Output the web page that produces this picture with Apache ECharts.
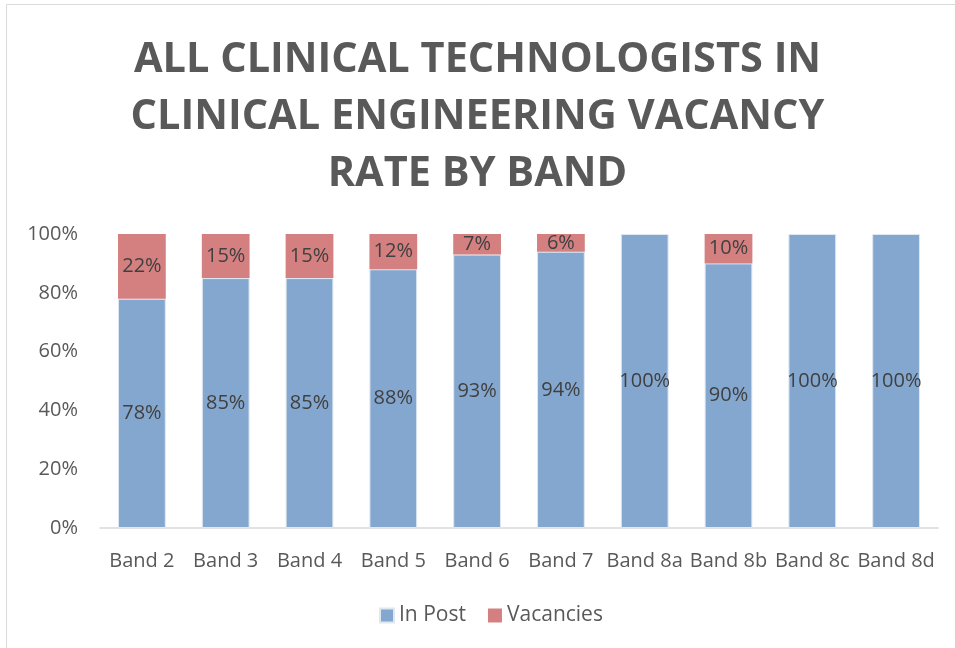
<!DOCTYPE html>
<html>
<head>
<meta charset="utf-8">
<script src="https://cdn.jsdelivr.net/npm/echarts@6/dist/echarts.min.js"></script>
<style>
  html, body { margin: 0; padding: 0; background: #fff; }
  #chart { width: 955px; height: 648px; }
</style>
</head>
<body>
<div id="chart"></div>
<script>
const bands = ["Band 2", "Band 3", "Band 4", "Band 5", "Band 6", "Band 7", "Band 8a", "Band 8b", "Band 8c", "Band 8d"];
const inPost = [78, 85, 85, 88, 93, 94, 100, 90, 100, 100];
const vacancies = [22, 15, 15, 12, 7, 6, 0, 10, 0, 0];

const font = "Open Sans";
const chart = echarts.init(document.getElementById("chart"));

const pctLabel = {
  show: true,
  position: "inside",
  fontFamily: font,
  fontSize: 20,
  color: "#404040",
  formatter: (p) => (p.value ? p.value + "%" : "")
};

chart.setOption({
  animation: false,
  backgroundColor: "#fff",
  graphic: [
    {
      type: "rect",
      shape: { x: 6.5, y: 4.5, width: 1000, height: 700 },
      style: { fill: "none", stroke: "#d9d9d9", lineWidth: 1 },
      silent: true
    }
  ],
  title: {
    text: "ALL CLINICAL TECHNOLOGISTS IN\nCLINICAL ENGINEERING VACANCY\nRATE BY BAND",
    left: "center",
    top: 27,
    textStyle: {
      fontFamily: font,
      fontWeight: "bold",
      fontSize: 41.5,
      lineHeight: 57,
      color: "#595959"
    }
  },
  legend: {
    left: 374,
    top: 600,
    itemWidth: 14,
    itemHeight: 14,
    itemGap: 22,
    icon: "rect",
    textStyle: { fontFamily: font, fontSize: 21, color: "#595959" },
    data: ["In Post", "Vacancies"]
  },
  grid: { left: 100, right: 17, top: 234, bottom: 120 },
  xAxis: {
    type: "category",
    data: bands,
    axisLine: { lineStyle: { color: "#d9d9d9", width: 1.5 } },
    axisTick: { show: false },
    axisLabel: { interval: 0, fontFamily: font, fontSize: 20, color: "#595959", margin: 23 }
  },
  yAxis: {
    type: "value",
    min: 0,
    max: 100,
    interval: 20,
    axisLine: { show: false },
    axisTick: { show: false },
    splitLine: { show: false },
    axisLabel: { fontFamily: font, fontSize: 20, color: "#595959", margin: 22, formatter: "{value}%" }
  },
  series: [
    {
      name: "In Post",
      type: "bar",
      stack: "total",
      barWidth: "57%",
      data: inPost,
      itemStyle: { color: "#84A7CF", borderColor: "#dfe7f1", borderWidth: 1 },
      label: pctLabel
    },
    {
      name: "Vacancies",
      type: "bar",
      stack: "total",
      barWidth: "57%",
      data: vacancies,
      itemStyle: { color: "#D48080", borderWidth: 0 },
      label: pctLabel
    }
  ]
});
</script>
</body>
</html>
